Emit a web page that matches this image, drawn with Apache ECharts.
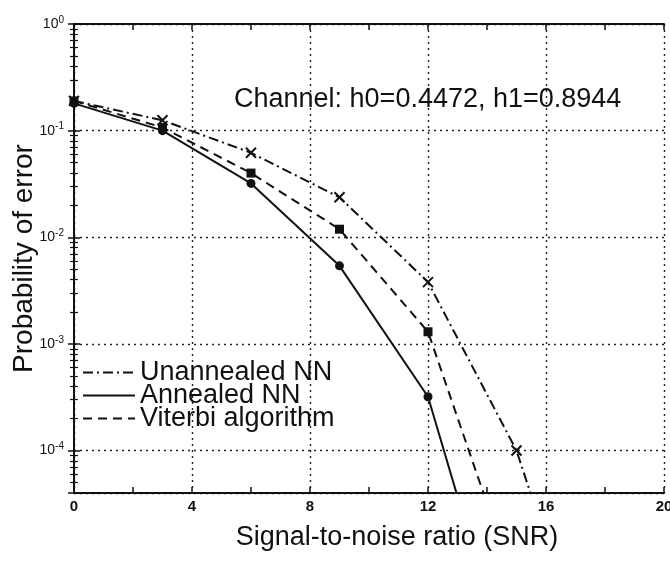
<!DOCTYPE html>
<html>
<head>
<meta charset="utf-8">
<script src="https://cdn.jsdelivr.net/npm/echarts@6/dist/echarts.min.js"></script>
<style>
  html, body { margin: 0; padding: 0; background: #fff; }
  #main { width: 670px; height: 561px; }
</style>
</head>
<body>
<div id="main"></div>
<script>
// SNR values (x) and error probabilities
const snr = [0, 3, 6, 9, 12, 15, 18];
const unannealed = [0.19, 0.125, 0.062, 0.0237, 0.0038, 0.0001, 3e-7];
const annealed = [0.18, 0.10, 0.032, 0.0054, 0.00032, 5e-7];
const viterbi = [0.19, 0.107, 0.040, 0.0119, 0.0013, 5e-6];
const xTicks = [0, 4, 8, 12, 16, 20];

const ink = '#111';
const font = 'Liberation Sans, Arial, sans-serif';

function pairs(ys) {
  return ys.map((y, i) => [snr[i], y]);
}

// x shaped marker
const crossPath = 'path://M0,0L10,10M10,0L0,10';

const myChart = echarts.init(document.getElementById('main'));

const dotted = { color: '#222', width: 1.4, type: [2, 4] };

myChart.setOption({
  animation: false,
  backgroundColor: '#fff',
  title: {
    text: 'Channel: h0=0.4472, h1=0.8944',
    left: 229,
    top: 81,
    textStyle: { fontFamily: font, fontSize: 27, fontWeight: 'normal', color: ink }
  },
  legend: {
    orient: 'vertical',
    left: 77,
    top: 354,
    itemWidth: 52,
    itemHeight: 12,
    itemGap: -4,
    itemStyle: { color: 'rgba(0,0,0,0)', borderColor: 'rgba(0,0,0,0)', borderWidth: 0 },
    textStyle: { fontFamily: font, fontSize: 27, color: ink },
    data: ['Unannealed NN', 'Annealed NN', 'Viterbi algorithm']
  },
  grid: { left: 74, right: 6, top: 24, bottom: 68, containLabel: false, outerBoundsMode: 'none' },
  xAxis: [
    {
      type: 'value',
      min: 0,
      max: 20,
      interval: 4,
      name: 'Signal-to-noise ratio (SNR)',
      nameLocation: 'middle',
      nameGap: 31,
      nameTextStyle: { fontFamily: font, fontSize: 27, color: ink, padding: [0, 0, 0, 56] },
      axisLine: { lineStyle: { color: ink, width: 2 } },
      axisTick: { inside: true, length: 6, lineStyle: { color: ink, width: 1.5 } },
      minorTick: { show: true, splitNumber: 2, length: 6, lineStyle: { color: ink, width: 1.5 } },
      axisLabel: {
        fontFamily: font, fontSize: 15, fontWeight: 'bold', color: ink, margin: 6,
        formatter: v => xTicks.indexOf(v) >= 0 ? String(v) : ''
      },
      splitLine: { show: true, lineStyle: dotted }
    },
    {
      type: 'value',
      position: 'top',
      min: 0,
      max: 20,
      interval: 4,
      axisLine: { show: true, lineStyle: { color: ink, width: 2 } },
      axisTick: { inside: true, length: 6, lineStyle: { color: ink, width: 1.5 } },
      minorTick: { show: true, splitNumber: 2, length: 6, lineStyle: { color: ink, width: 1.5 } },
      axisLabel: { show: false },
      splitLine: { show: false }
    }
  ],
  yAxis: [
    {
      type: 'log',
      logBase: 10,
      min: 4e-5,
      max: 1,
      name: 'Probability of error',
      nameLocation: 'middle',
      nameGap: 36,
      nameMoveOverlap: false,
      nameTextStyle: { fontFamily: font, fontSize: 28, color: ink },
      axisLine: { show: true, lineStyle: { color: ink, width: 2 } },
      axisTick: { inside: true, length: 6, lineStyle: { color: ink, width: 1.5 } },
      minorTick: { show: true, splitNumber: 9, length: 4, lineStyle: { color: ink, width: 1.2 } },
      axisLabel: {
        showMinLabel: false,
        margin: 10,
        formatter: v => '{b|10}{s|' + Math.round(Math.log10(v)) + '}',
        rich: {
          b: { fontFamily: font, fontSize: 14, color: ink },
          s: { fontFamily: font, fontSize: 10, color: ink, verticalAlign: 'top', padding: [0, 0, 8, 0] }
        }
      },
      splitLine: { show: true, lineStyle: dotted }
    },
    {
      type: 'log',
      logBase: 10,
      min: 4e-5,
      max: 1,
      position: 'right',
      axisLine: { show: true, lineStyle: { color: ink, width: 2 } },
      axisTick: { inside: true, length: 6, lineStyle: { color: ink, width: 1.5 } },
      minorTick: { show: true, splitNumber: 9, length: 4, lineStyle: { color: ink, width: 1.2 } },
      axisLabel: { show: false },
      splitLine: { show: false }
    }
  ],
  series: [
    {
      name: 'Unannealed NN',
      type: 'line',
      data: pairs(unannealed),
      symbol: crossPath,
      symbolSize: 10,
      itemStyle: { color: 'none', borderColor: ink, borderWidth: 2 },
      lineStyle: { color: ink, width: 2, type: [10, 4, 2, 4] },
      clip: true
    },
    {
      name: 'Annealed NN',
      type: 'line',
      data: pairs(annealed),
      symbol: 'circle',
      symbolSize: 9,
      itemStyle: { color: ink, borderColor: ink, borderWidth: 0 },
      lineStyle: { color: ink, width: 2, type: 'solid' },
      clip: true
    },
    {
      name: 'Viterbi algorithm',
      type: 'line',
      data: pairs(viterbi),
      symbol: 'rect',
      symbolSize: 9,
      itemStyle: { color: ink, borderColor: ink, borderWidth: 0 },
      lineStyle: { color: ink, width: 2, type: [9, 6] },
      clip: true
    }
  ]
});
</script>
</body>
</html>
